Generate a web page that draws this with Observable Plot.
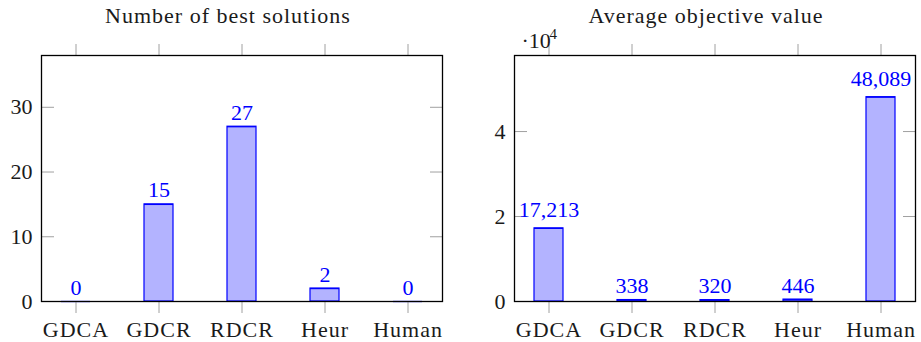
<!DOCTYPE html>
<html>
<head>
<meta charset="utf-8">
<script src="https://cdn.jsdelivr.net/npm/d3@7"></script>
<script src="https://cdn.jsdelivr.net/npm/@observablehq/plot@0.6"></script>
<style>
  html, body { margin: 0; padding: 0; background: #fff; }
  #wrap { position: relative; width: 921px; height: 342px; overflow: hidden; }
  #wrap svg { position: absolute; top: 0; }
</style>
</head>
<body>
<div id="wrap"></div>
<script>
const categories = ["GDCA", "GDCR", "RDCR", "Heur", "Human"];
const bestSolutions = [0, 15, 27, 2, 0];
const avgObjective = [17213, 338, 320, 446, 48089];
const leftTicks = [0, 10, 20, 30];
const rightTicks = [0, 20000, 40000];

const FONT = "Liberation Serif";
const BLUE = "#0000ff";
const FILL = "#b3b3ff";
const TICK = "#a0a0a0";
const INK = "#1a1a1a";
const fmt = d3.format(",");

function panel({values, ticks, tickFormat, ymax, width, marginLeft, marginRight, title, titleDx, extra = []}) {
  const data = categories.map((c, i) => ({cat: c, v: values[i], label: fmt(values[i])}));
  const plain = data.filter(d => !d.label.includes(","));
  const comma = data.filter(d => d.label.includes(","));
  return Plot.plot({
    width, height: 342,
    marginLeft, marginRight, marginTop: 55, marginBottom: 41,
    style: `font-family: ${FONT}; font-size: 22px; color: ${INK}; background: white; overflow: visible;`,
    x: {domain: categories, paddingInner: 0.652, paddingOuter: 0.2266, label: null},
    y: {domain: [0, ymax], label: null},
    marks: [
      Plot.barY(data, {x: "cat", y: "v", fill: FILL, stroke: BLUE, strokeWidth: 1.2}),
      Plot.tickY(data, {x: "cat", y: "v", stroke: BLUE, strokeWidth: 1.3}),
      Plot.axisY(ticks, {anchor: "right", frameAnchor: "left", tickSize: 12, fill: "none", stroke: TICK, label: null}),
      Plot.axisY(ticks, {anchor: "left", frameAnchor: "right", tickSize: 12, fill: "none", stroke: TICK, label: null}),
      Plot.axisY(ticks, {anchor: "left", tickSize: 0, tickPadding: 9, stroke: "none", fill: INK, tickFormat, fontSize: 22, fontFamily: FONT, label: null}),
      Plot.axisX({anchor: "top", tickSize: 12, fill: "none", stroke: TICK, label: null}),
      Plot.axisX({anchor: "bottom", tickSize: 12, stroke: TICK, fill: INK, tickPadding: 8, fontSize: 22, fontFamily: FONT, label: null}),
      Plot.frame({stroke: "black", strokeWidth: 1.3}),
      Plot.text(plain, {x: "cat", y: "v", text: "label", fill: BLUE, fontSize: 22, fontFamily: FONT, lineAnchor: "bottom", dy: -7}),
      Plot.text(comma, {x: "cat", y: "v", text: "label", fill: BLUE, fontSize: 22, fontFamily: FONT, lineAnchor: "bottom", dy: -11}),
      Plot.text([title], {text: d => d, frameAnchor: "top", lineAnchor: "bottom", dy: -33, dx: titleDx, fontSize: 22, fontFamily: FONT, fill: INK}),
      ...extra
    ]
  });
}

const left = panel({
  values: bestSolutions, ticks: leftTicks, tickFormat: d => String(d), ymax: 38,
  width: 460, marginLeft: 41, marginRight: 18,
  title: "Number of best solutions", titleDx: -14
});

const right = panel({
  values: avgObjective, ticks: rightTicks, tickFormat: d => String(d / 10000), ymax: 57900,
  width: 461, marginLeft: 54, marginRight: 6,
  title: "Average objective value", titleDx: -9,
  extra: [
    Plot.text(["·10"], {text: d => d, frameAnchor: "top-left", textAnchor: "start", lineAnchor: "bottom", dx: 7, dy: -8, fontSize: 22, fontFamily: FONT, fill: INK}),
    Plot.text(["4"], {text: d => d, frameAnchor: "top-left", textAnchor: "start", lineAnchor: "bottom", dx: 35, dy: -17, fontSize: 15, fontFamily: FONT, fill: INK})
  ]
});

const spaced = new Set([...categories, "Number of best solutions", "Average objective value"]);
for (const svg of [left, right]) {
  svg.style.setProperty("font-family", FONT, "important");
  svg.querySelectorAll("g, text, tspan").forEach(t => {
    t.setAttribute("font-family", FONT);
    t.style.setProperty("font-family", FONT, "important");
  });
  svg.querySelectorAll("text").forEach(t => {
    if (spaced.has(t.textContent)) t.style.setProperty("letter-spacing", "1px", "important");
  });
}

left.style.left = "0px";
right.style.left = "460px";
document.getElementById("wrap").append(left, right);
</script>
</body>
</html>
